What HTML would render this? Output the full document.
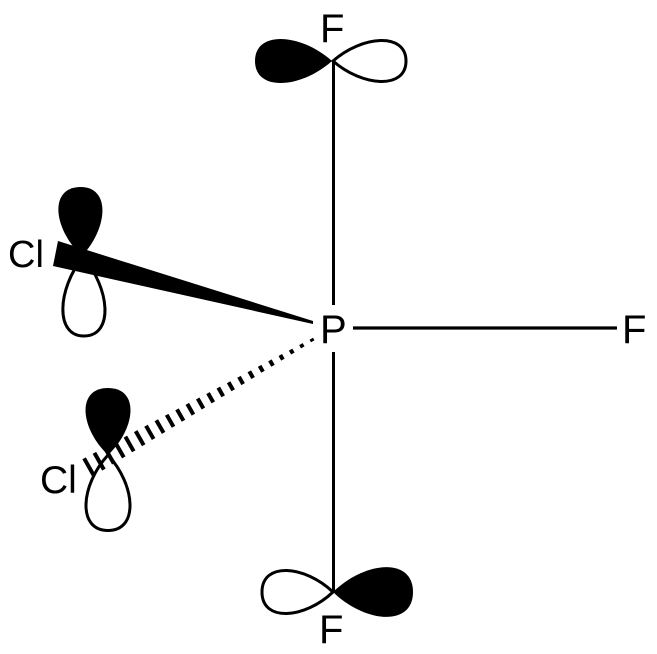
<!DOCTYPE html>
<html>
<head>
<meta charset="utf-8">
<style>
  html, body { margin: 0; padding: 0; background: #fff; }
  body { width: 657px; height: 654px; overflow: hidden; }
  svg { display: block; }
  text { font-family: "Liberation Sans", Arial, sans-serif; fill: #000; }
</style>
</head>
<body>
<svg width="657" height="654" viewBox="0 0 657 654" xmlns="http://www.w3.org/2000/svg">
  <rect width="657" height="654" fill="#fff"/>

  <!-- bonds -->
  <line x1="333.5" y1="61" x2="333.5" y2="305" stroke="#000" stroke-width="3"/>
  <line x1="333.5" y1="352" x2="333.5" y2="592" stroke="#000" stroke-width="3"/>
  <line x1="353" y1="328" x2="617" y2="328" stroke="#000" stroke-width="3.2"/>

  <!-- top F orbitals -->
  <path transform="translate(332,61) rotate(180)" d="M0,0 C30.8,-27.6 77,-31.05 77,0 C77,31.05 30.8,27.6 0,0 Z" fill="#000"/>
  <path transform="translate(333,61)" d="M0,0 C29.2,-25.7 73,-28.9 73,0 C73,28.9 29.2,25.7 0,0 Z" fill="#fff" stroke="#000" stroke-width="3"/>

  <!-- bottom F orbitals -->
  <path transform="translate(333,592) rotate(180)" d="M0,0 C28.4,-27 71,-30.4 71,0 C71,30.4 28.4,27 0,0 Z" fill="#fff" stroke="#000" stroke-width="3"/>
  <path transform="translate(333,592)" d="M0,0 C32,-31.2 80,-35.1 80,0 C80,35.1 32,31.2 0,0 Z" fill="#000"/>

  <!-- top Cl orbitals -->
  <path transform="translate(83,257) rotate(89)" d="M0,0 C31.6,-26.4 79,-29.7 79,0 C79,29.7 31.6,26.4 0,0 Z" fill="#fff" stroke="#000" stroke-width="3"/>
  <path transform="translate(82,256) rotate(-92)" d="M0,0 C27.6,-27.6 69,-31.05 69,0 C69,31.05 27.6,27.6 0,0 Z" fill="#000"/>

  <!-- wedge bond -->
  <polygon points="58,241 313,321 313,324 53,266" fill="#000"/>

  <!-- bottom Cl orbitals -->
  <path transform="translate(108,455) rotate(90)" d="M0,0 C30.2,-27.6 75.5,-31.05 75.5,0 C75.5,31.05 30.2,27.6 0,0 Z" fill="#fff" stroke="#000" stroke-width="3"/>
  <path transform="translate(108,455) rotate(-90)" d="M0,0 C26.8,-28.2 67,-31.7 67,0 C67,31.7 26.8,28.2 0,0 Z" fill="#000"/>

  <!-- hashed wedge bond -->
  <g stroke="#000" stroke-width="4" stroke-linecap="butt">
    <line x1="311.3" y1="338.7" x2="312.7" y2="341.3"/>
    <line x1="300.9" y1="344.1" x2="302.8" y2="347.4"/>
    <line x1="290.6" y1="349.6" x2="292.9" y2="353.5"/>
    <line x1="280.3" y1="355.0" x2="282.9" y2="359.6"/>
    <line x1="269.9" y1="360.4" x2="273.0" y2="365.7"/>
    <line x1="259.6" y1="365.9" x2="263.0" y2="371.8"/>
    <line x1="249.3" y1="371.3" x2="253.1" y2="378.0"/>
    <line x1="239.0" y1="376.8" x2="243.1" y2="384.1"/>
    <line x1="228.6" y1="382.2" x2="233.2" y2="390.2"/>
    <line x1="218.3" y1="387.6" x2="223.2" y2="396.3"/>
    <line x1="208.0" y1="393.1" x2="213.3" y2="402.4"/>
    <line x1="197.7" y1="398.5" x2="203.4" y2="408.5"/>
    <line x1="187.3" y1="403.9" x2="193.4" y2="414.6"/>
    <line x1="177.0" y1="409.4" x2="183.5" y2="420.7"/>
    <line x1="166.7" y1="414.8" x2="173.5" y2="426.8"/>
    <line x1="156.3" y1="420.3" x2="163.6" y2="432.9"/>
    <line x1="146.0" y1="425.7" x2="153.6" y2="439.0"/>
    <line x1="135.7" y1="431.1" x2="143.7" y2="445.2"/>
    <line x1="125.4" y1="436.6" x2="133.7" y2="451.3"/>
    <line x1="115.0" y1="442.0" x2="123.8" y2="457.4"/>
    <line x1="104.7" y1="447.4" x2="113.8" y2="463.5"/>
    <line x1="94.4" y1="452.9" x2="103.9" y2="469.6"/>
    <line x1="84.1" y1="458.3" x2="93.9" y2="475.7"/>
  </g>

  <!-- atom labels -->
  <text x="320" y="42" font-size="40">F</text>
  <text x="320" y="343" font-size="40">P</text>
  <text x="622" y="343" font-size="40">F</text>
  <text x="319" y="643" font-size="40">F</text>
  <text x="8" y="267" font-size="38">Cl</text>
  <text x="40" y="493" font-size="39">Cl</text>
</svg>
</body>
</html>
